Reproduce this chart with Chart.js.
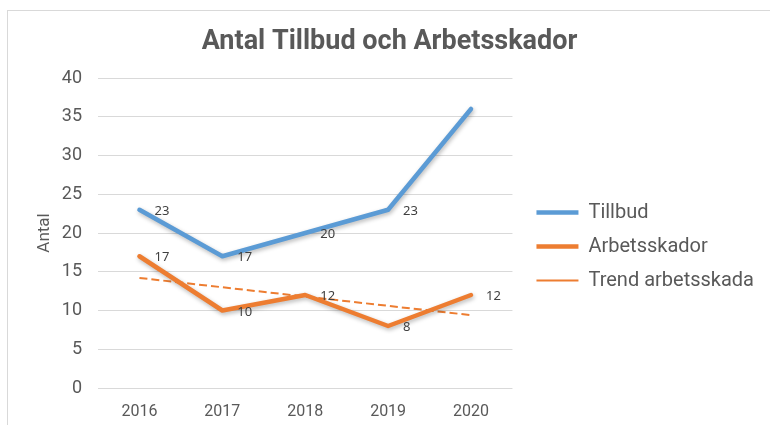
<!DOCTYPE html>
<html>
<head>
<meta charset="utf-8">
<script src="https://cdn.jsdelivr.net/npm/chart.js@4.4.1/dist/chart.umd.min.js"></script>
<style>
    body { margin: 0; background: #fff; overflow: hidden; }
    #frame { position: absolute; left: 7px; top: 10px; width: 800px; height: 500px; border: 1px solid #d9d9d9; }
    #wrap { position: absolute; left: 0; top: 0; width: 770px; height: 425px; }
</style>
</head>
<body>
<div id="frame"></div>
<div id="wrap"><canvas id="trendChart" width="770" height="425"></canvas></div>
<script>
const years = ['2016', '2017', '2018', '2019', '2020'];
const tillbud = [23, 17, 20, 23, 36];
const arbetsskador = [17, 10, 12, 8, 12];
const trendArbetsskada = [14.2, 13.0, 11.8, 10.6, 9.4];
const yTicks = [0, 5, 10, 15, 20, 25, 30, 35, 40];

// which points get a value label (no label on the last Tillbud point)
const tillbudLabels = [true, true, true, true, false];
const arbetsskadorLabels = [true, true, true, true, true];

const textColor = '#595959';

// draws the small value labels to the right of each point
const valueLabels = {
    id: 'valueLabels',
    afterDatasetsDraw(chart) {
        const ctx = chart.ctx;
        ctx.save();
        ctx.font = '13px "Noto Sans"';
        ctx.fillStyle = '#404040';
        ctx.textAlign = 'left';
        ctx.textBaseline = 'middle';
        chart.data.datasets.forEach(function (ds, i) {
            if (!ds.showLabels) return;
            const meta = chart.getDatasetMeta(i);
            meta.data.forEach(function (pt, j) {
                if (!ds.showLabels[j]) return;
                ctx.fillText(String(ds.data[j]), pt.x + 15, pt.y + 1.5);
            });
        });
        ctx.restore();
    }
};

// soft shadow under the two thick lines, like the office chart
const lineShadow = {
    id: 'lineShadow',
    beforeDatasetDraw(chart, args) {
        if (!chart.data.datasets[args.index].shadow) return;
        const ctx = chart.ctx;
        ctx.save();
        ctx.shadowColor = 'rgba(0, 0, 0, 0.28)';
        ctx.shadowBlur = 4;
        ctx.shadowOffsetX = 1;
        ctx.shadowOffsetY = 2;
    },
    afterDatasetDraw(chart, args) {
        if (!chart.data.datasets[args.index].shadow) return;
        chart.ctx.restore();
    }
};

const ctx = document.getElementById('trendChart').getContext('2d');
new Chart(ctx, {
    type: 'line',
    data: {
        labels: years,
        datasets: [
            {
                label: 'Tillbud',
                data: tillbud,
                showLabels: tillbudLabels,
                shadow: true,
                borderColor: '#5B9BD5',
                backgroundColor: '#5B9BD5',
                borderWidth: 4.5,
                borderJoinStyle: 'round',
                borderCapStyle: 'round',
                pointRadius: 0,
                pointStyle: 'line',
                tension: 0
            },
            {
                label: 'Arbetsskador',
                data: arbetsskador,
                showLabels: arbetsskadorLabels,
                shadow: true,
                borderColor: '#ED7D31',
                backgroundColor: '#ED7D31',
                borderWidth: 4.5,
                borderJoinStyle: 'round',
                borderCapStyle: 'round',
                pointRadius: 0,
                pointStyle: 'line',
                tension: 0
            },
            {
                label: 'Trend arbetsskada',
                data: trendArbetsskada,
                borderColor: '#ED7D31',
                backgroundColor: '#ED7D31',
                borderWidth: 2,
                borderDash: [8, 4],
                pointRadius: 0,
                pointStyle: 'line',
                tension: 0
            }
        ]
    },
    options: {
        responsive: false,
        animation: false,
        maintainAspectRatio: false,
        layout: {
            padding: { left: 15, right: 6, top: 0, bottom: 4 }
        },
        plugins: {
            title: {
                display: true,
                text: 'Antal Tillbud och Arbetsskador',
                color: textColor,
                font: { family: 'Roboto', size: 27, weight: 'bold' },
                padding: { top: 26, bottom: 19.6 }
            },
            legend: {
                position: 'right',
                maxWidth: 320,
                title: {
                    // empty title only pushes the items down
                    display: true,
                    text: '',
                    font: { size: 10 },
                    padding: { top: 60, bottom: 0 }
                },
                labels: {
                    usePointStyle: true,
                    pointStyleWidth: 42,
                    boxWidth: 42,
                    boxHeight: 20,
                    padding: 14,
                    color: textColor,
                    font: { family: 'Roboto', size: 20 }
                }
            },
            tooltip: { enabled: false }
        },
        scales: {
            x: {
                offset: true,
                grid: { display: false, drawTicks: false },
                border: { display: false },
                afterFit: function (axis) { axis.height = 33; },
                ticks: {
                    color: textColor,
                    padding: 14,
                    maxRotation: 0,
                    font: { family: 'Roboto', size: 16 }
                }
            },
            y: {
                min: 0,
                max: 40,
                afterBuildTicks: function (axis) {
                    axis.ticks = yTicks.map(function (v) { return { value: v }; });
                },
                afterFit: function (axis) { axis.width = 83; },
                grid: { color: '#d9d9d9', lineWidth: 1, drawTicks: false },
                border: { display: false },
                ticks: {
                    color: textColor,
                    padding: 16,
                    font: { family: 'Roboto', size: 18 }
                },
                title: {
                    display: true,
                    text: 'Antal',
                    color: textColor,
                    padding: { top: 20, bottom: 6 },
                    font: { family: 'Roboto', size: 17 }
                }
            },
            gap: {
                // empty right axis, keeps space between plot and legend
                type: 'linear',
                position: 'right',
                grid: { display: false, drawTicks: false },
                border: { display: false },
                ticks: { display: false },
                afterFit: function (axis) { axis.width = 10; }
            }
        }
    },
    plugins: [valueLabels, lineShadow]
});
</script>
</body>
</html>
